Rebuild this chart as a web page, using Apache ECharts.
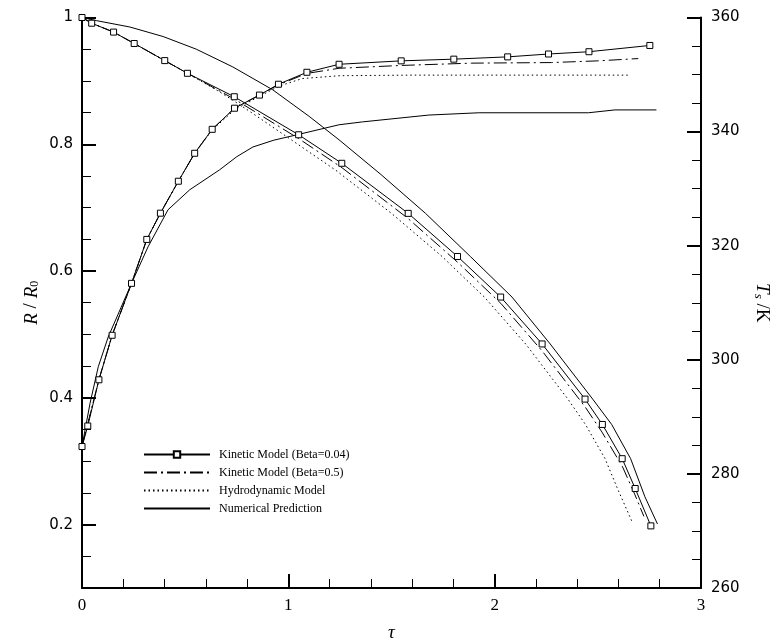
<!DOCTYPE html>
<html>
<head>
<meta charset="utf-8">
<script src="https://cdn.jsdelivr.net/npm/echarts@6.0.0/dist/echarts.min.js"></script>
<style>
	html, body { margin: 0; padding: 0; background: #fff; }
	#plot { width: 773px; height: 644px; }
</style>
</head>
<body>
<div id="plot"></div>
<script>
// legend names (R and T series share a name so the legend shows 4 rows)
var names = ['Kinetic Model (Beta=0.04)', 'Kinetic Model (Beta=0.5)', 'Hydrodynamic Model', 'Numerical Prediction'];

// R/R0 against tau (left axis)
var kin04R = [[0,1.0],[0.047,0.991],[0.153,0.977],[0.253,0.959],[0.401,0.932],[0.511,0.912],[0.738,0.875],[1.050,0.815],[1.259,0.770],[1.581,0.691],[1.820,0.623],[2.029,0.559],[2.230,0.485],[2.438,0.398],[2.522,0.358],[2.618,0.304],[2.681,0.257],[2.757,0.198]];
var kin05R = [[0,1.0],[0.047,0.991],[0.153,0.977],[0.253,0.959],[0.401,0.932],[0.511,0.912],[0.74,0.871],[1.05,0.809],[1.26,0.763],[1.58,0.683],[1.82,0.614],[2.03,0.549],[2.23,0.474],[2.44,0.385],[2.52,0.346],[2.62,0.291],[2.68,0.247],[2.723,0.213]];
var hydroR = [[0,1.0],[0.047,0.991],[0.153,0.977],[0.253,0.959],[0.401,0.932],[0.511,0.912],[0.65,0.886],[0.729,0.870],[0.826,0.849],[1.037,0.802],[1.230,0.759],[1.50,0.691],[1.745,0.623],[1.95,0.559],[2.15,0.485],[2.355,0.398],[2.44,0.358],[2.535,0.304],[2.595,0.257],[2.668,0.203]];
var numR = [[0,1.0],[0.071,0.995],[0.232,0.985],[0.393,0.970],[0.554,0.950],[0.731,0.922],[0.924,0.886],[1.101,0.844],[1.246,0.807],[1.45,0.752],[1.665,0.691],[1.882,0.623],[2.084,0.559],[2.269,0.485],[2.475,0.398],[2.567,0.358],[2.659,0.304],[2.728,0.244],[2.789,0.201]];

// Ts (K) against tau (right axis)
var kin04T = [[0,284.8],[0.028,288.4],[0.082,296.5],[0.146,304.3],[0.240,313.4],[0.314,321.1],[0.380,325.7],[0.467,331.3],[0.546,336.2],[0.631,340.4],[0.739,344.1],[0.860,346.4],[0.952,348.3],[1.090,350.4],[1.246,351.8],[1.547,352.4],[1.802,352.7],[2.063,353.1],[2.261,353.6],[2.457,354.0],[2.752,355.1]];
var kin05T = [[0,284.8],[0.082,296.5],[0.146,304.3],[0.240,313.4],[0.314,321.1],[0.380,325.7],[0.467,331.3],[0.546,336.2],[0.631,340.4],[0.739,344.1],[0.860,346.4],[0.952,348.2],[1.090,350.2],[1.246,351.1],[1.55,351.6],[1.889,352.0],[2.275,352.1],[2.50,352.4],[2.696,352.8]];
var hydroT = [[0,284.8],[0.082,296.5],[0.146,304.3],[0.240,313.4],[0.314,321.1],[0.380,325.7],[0.467,331.3],[0.546,336.2],[0.631,340.3],[0.739,343.8],[0.860,346.2],[0.957,348.0],[1.068,349.3],[1.25,349.8],[1.6,349.9],[2.0,349.9],[2.647,349.9]];
var numT = [[0,284.8],[0.039,292.4],[0.079,298.8],[0.127,304.0],[0.240,313.4],[0.320,319.8],[0.417,326.3],[0.522,329.8],[0.667,333.3],[0.75,335.6],[0.828,337.3],[0.93,338.5],[1.037,339.4],[1.246,341.2],[1.359,341.7],[1.681,342.9],[1.923,343.3],[2.454,343.3],[2.583,343.8],[2.784,343.8]];

// tick label values
var rLabels = [0.2, 0.4, 0.6, 0.8, 1];

var plot = (function() {
	var ink = '#000';
	return {
		init: function() {
			var self = this;
			var chart = echarts.init(document.getElementById('plot'));
			var series = [];
			var sets = [[kin04R, kin04T], [kin05R, kin05T], [hydroR, hydroT], [numR, numT]];
			for (var i = 0; i < sets.length; i++) {
				series.push(self.line(i, sets[i][0], 0));
				series.push(self.line(i, sets[i][1], 1));
			}
			chart.setOption(self.option(series));
		},
		line: function(k, data, yIdx) {
			var dash = ['solid', [13, 4, 2, 4], [1.5, 3], 'solid'][k];
			var s = {
				name: names[k],
				type: 'line',
				yAxisIndex: yIdx,
				data: data,
				animation: false,
				lineStyle: {color: ink, width: 1, type: dash},
				itemStyle: {color: ink},
				symbol: 'none',
				z: 2
			};
			if (k === 0) {
				s.symbol = 'rect';
				s.symbolSize = 6;
				s.itemStyle = {color: '#fff', borderColor: ink, borderWidth: 1};
				s.z = 3;
			}
			return s;
		},
		legendData: function() {
			var out = [];
			for (var i = 0; i < names.length; i++) {
				// lines without markers: hide the dot ECharts puts on the legend line
				out.push(i === 0 ? {name: names[i]} : {name: names[i], itemStyle: {opacity: 0}});
			}
			return out;
		},
		option: function(series) {
			var axisLine = {show: true, onZero: false, lineStyle: {color: ink, width: 2}};
			return {
				backgroundColor: '#fff',
				grid: {left: 82, right: 72, top: 17.5, bottom: 56, outerBoundsMode: 'none'},
				legend: {
					orient: 'vertical',
					left: 143,
					top: 448.5,
					padding: 0,
					itemWidth: 66,
					itemHeight: 8,
					itemGap: 6,
					selectedMode: false,
					data: this.legendData(),
					textStyle: {fontFamily: 'Liberation Serif', fontSize: 12, color: ink, padding: [0, 0, 0, 4]}
				},
				xAxis: {
					type: 'value',
					min: 0,
					max: 3,
					interval: 1,
					name: 'τ',
					nameLocation: 'middle',
					nameGap: 35,
					nameTextStyle: {fontFamily: 'Liberation Serif', fontStyle: 'italic', fontSize: 19, color: ink},
					axisLine: axisLine,
					axisTick: {inside: true, length: 14, lineStyle: {color: ink, width: 2}},
					minorTick: {show: true, splitNumber: 5, length: 9, lineStyle: {color: ink, width: 1}},
					axisLabel: {margin: 9, fontFamily: 'Liberation Serif', fontSize: 17, color: ink},
					splitLine: {show: false}
				},
				yAxis: [
					{
						type: 'value',
						position: 'left',
						min: 0.1,
						max: 1,
						interval: 0.05,
						name: '{i|R} / {i|R}{s|0}',
						nameLocation: 'middle',
						nameGap: 41,
						nameRotate: 90,
						nameTextStyle: {
							color: ink,
							fontFamily: 'Liberation Serif',
							fontSize: 19,
							rich: {
								i: {fontFamily: 'Liberation Serif', fontStyle: 'italic', fontSize: 19, color: ink},
								s: {fontFamily: 'Liberation Serif', fontSize: 12, color: ink, verticalAlign: 'bottom', padding: [7, 0, 0, 0]}
							}
						},
						axisLine: axisLine,
						axisTick: {inside: true, length: 9, lineStyle: {color: ink, width: 1}},
						axisLabel: {show: false},
						splitLine: {show: false}
					},
					{
						type: 'value',
						position: 'right',
						min: 260,
						max: 360,
						interval: 20,
						name: '{i|T}{s|s} /K',
						nameLocation: 'middle',
						nameGap: 51,
						nameRotate: -90,
						nameTextStyle: {
							color: ink,
							fontFamily: 'Liberation Serif',
							fontSize: 19,
							rich: {
								i: {fontFamily: 'Liberation Serif', fontStyle: 'italic', fontSize: 19, color: ink},
								s: {fontFamily: 'Liberation Serif', fontStyle: 'italic', fontSize: 13, color: ink, verticalAlign: 'bottom', padding: [7, 0, 0, 0]}
							}
						},
						axisLine: axisLine,
						axisTick: {inside: true, length: 14, lineStyle: {color: ink, width: 2}},
						minorTick: {show: true, splitNumber: 4, length: 9, lineStyle: {color: ink, width: 1}},
						axisLabel: {margin: 10, fontFamily: 'DejaVu Sans', fontSize: 15, color: ink},
						splitLine: {show: false}
					},
					{
						// overlay for the long ticks and labels of R/R0
						type: 'value',
						position: 'left',
						min: 0.1,
						max: 1,
						axisLine: {show: false},
						axisTick: {inside: true, length: 14, customValues: rLabels, lineStyle: {color: ink, width: 2}},
						axisLabel: {margin: 9, customValues: rLabels, fontFamily: 'DejaVu Sans', fontSize: 15, color: ink},
						splitLine: {show: false}
					}
				],
				series: series
			};
		}
	};
}());

plot.init();
</script>
</body>
</html>
